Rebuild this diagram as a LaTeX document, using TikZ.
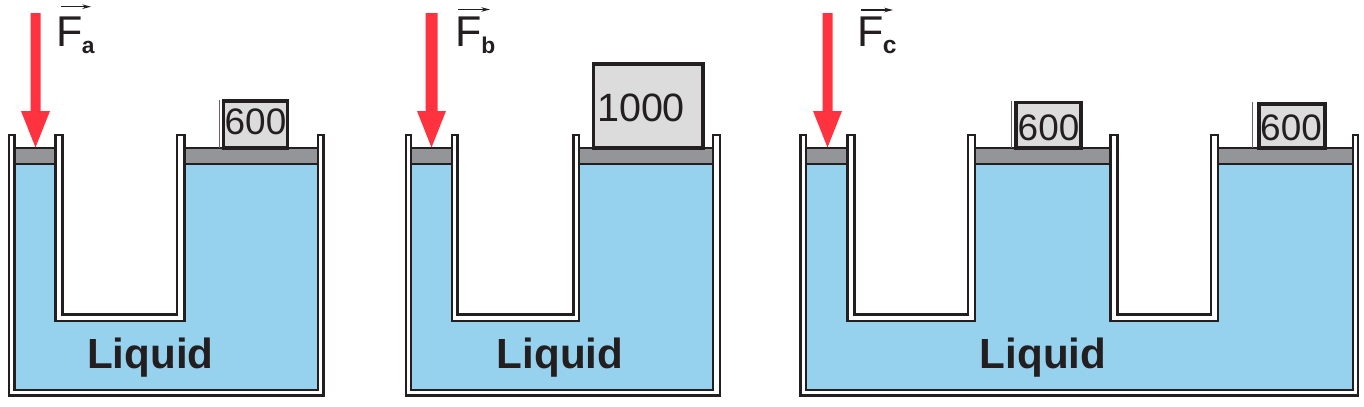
\documentclass[tikz,border=0pt]{standalone}
\usepackage{fontspec}
\setmainfont{Liberation Sans}
\usetikzlibrary{arrows.meta}
\definecolor{liq}{RGB}{150,209,237}
\definecolor{pist}{RGB}{147,149,152}
\definecolor{wgt}{RGB}{220,220,220}
\definecolor{ink}{RGB}{35,31,32}
\definecolor{pushred}{RGB}{255,51,64}
\tikzset{
  wall/.style={draw=ink,fill=white,line width=1.25pt,line join=miter},
  piston/.style={draw=ink,fill=pist,line width=1.25pt},
  weight/.style={draw=ink,fill=wgt,line width=2.2pt},
  ghost/.style={draw=ink!70,line width=0.5pt},
  num/.style={text=ink,inner sep=0pt,font=\fontsize{21}{21}\selectfont},
  liqlabel/.style={text=ink,inner sep=0pt,font=\fontsize{24}{24}\selectfont\bfseries},
  flabel/.style={text=ink,inner sep=0pt,font=\fontsize{24.5}{24.5}\selectfont},
  sublabel/.style={text=ink,inner sep=0pt,font=\fontsize{13}{13}\selectfont\bfseries},
  vec/.style={draw=ink,line width=0.6pt,-{Stealth[length=5pt,width=2.6pt]}}
}

\begin{document}
\begin{tikzpicture}[x=0.02cm,y=-0.02cm]
  \useasboundingbox (0,0) rectangle (1364,406);
  % liquid
  \foreach \xb/\xc in {14.5/318, 411/713, 806.3/1352.6}
    \fill[liq] (\xb,164) rectangle (\xc,390);
  % pistons
  \foreach \pa/\pb in {14.5/55.5, 184.5/318, 411/452, 579/713, 806.3/847.5, 975/1110.5, 1218.3/1352.6}
    \draw[piston] (\pa,148) rectangle (\pb,164);
  % U tubes
  \foreach \ua/\ub/\uc/\ud in {55.5/62.5/177/184.5, 452/457.5/573.5/579, 847.5/854.5/968/975, 1110.5/1117.5/1211/1218.3} {
    \fill[white] (\ua,135) rectangle (\ud,321);
    \draw[wall] (\ua,135) -- (\ua,321) -- (\ud,321) -- (\ud,135) -- (\uc,135) -- (\uc,314.5) -- (\ub,314.5) -- (\ub,135) -- cycle;
  }
  % vessels
  \foreach \xa/\xb/\xc/\xd in {9/14.5/318/323.5, 406/411/713/720.3, 800.5/806.3/1352.6/1357.7}
    \draw[wall] (\xa,135) -- (\xa,395.5) -- (\xd,395.5) -- (\xd,135) -- (\xc,135) -- (\xc,390) -- (\xb,390) -- (\xb,135) -- cycle;

  % weights
  \draw[ghost] (219.5,148) -- (219.5,100);
  \filldraw[weight] (223.5,101) rectangle (287.5,148);
  \node[num,anchor=base] (wa) at (255.5,134.3) {600};
  \filldraw[weight] (593.5,64) rectangle (703,148);
  \node[num,anchor=base,font=\fontsize{22.5}{22.5}\selectfont] (wb) at (641,121.7) {1000};
  \draw[ghost] (1011.7,148) -- (1011.7,101);
  \filldraw[weight] (1016,102.5) rectangle (1081,148);
  \node[num,anchor=base] (wc) at (1048.5,140) {600};
  \draw[ghost] (1252.3,148) -- (1252.3,102);
  \filldraw[weight] (1259,104) rectangle (1325,148);
  \node[num,anchor=base] (wd) at (1291,140) {600};

  % pushing forces
  \foreach \x/\w in {35.5/5, 431.5/6, 827.5/5}
    \fill[pushred] (\x-\w,13) -- (\x+\w,13) -- (\x+\w,111) -- (\x+14.5,111) -- (\x,147.5) -- (\x-14.5,111) -- (\x-\w,111) -- cycle;

  % force labels
  \node[flabel,anchor=base west] (Fa) at (56.5,46.5) {F};
  \node[sublabel,anchor=base west] (sa) at (81.5,53.3) {a};
  \coordinate (va0) at (61,6.7);
  \coordinate (va1) at (91,6.7);
  \draw[vec] (va0) -- (va1);
  \node[flabel,anchor=base west] (Fb) at (455,46.5) {F};
  \node[sublabel,anchor=base west] (sb) at (481,53.3) {b};
  \coordinate (vb0) at (458,9.5);
  \coordinate (vb1) at (490,9.5);
  \draw[vec] (vb0) -- (vb1);
  \node[flabel,anchor=base west] (Fc) at (857.5,46.5) {F};
  \node[sublabel,anchor=base west,font=\fontsize{14}{14}\selectfont\bfseries] (sc) at (882.5,53.3) {c};
  \coordinate (vc0) at (861,10);
  \coordinate (vc1) at (893,10);
  \draw[vec] (vc0) -- (vc1);

  % liquid labels
  \node[liqlabel,anchor=base] (la) at (150.3,368.3) {Liquid};
  \node[liqlabel,anchor=base] (lb) at (560,368.3) {Liquid};
  \node[liqlabel,anchor=base] (lc) at (1043,368.3) {Liquid};
\end{tikzpicture}
\end{document}
